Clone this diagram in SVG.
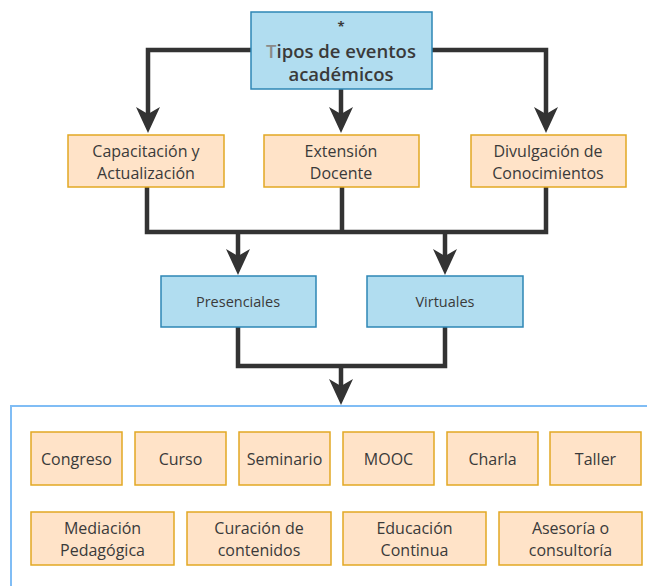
<svg xmlns="http://www.w3.org/2000/svg" width="647" height="586" viewBox="0 0 647 586">
<defs>
<style>
.blue{fill:#b1ddf0;stroke:#2e86b5;stroke-width:1.5}
.org{fill:#ffe3c8;stroke:#e2a823;stroke-width:1.5}
.t{font-family:"Open Sans","Liberation Sans",sans-serif;fill:#3a3a3a;text-anchor:middle}
.m{font-size:16px}
.c{fill:none;stroke:#333;stroke-width:4.5;stroke-linejoin:miter}
</style>
<marker id="ah" viewBox="-14 -14 28 28" refX="0" refY="0" markerWidth="28" markerHeight="28" markerUnits="userSpaceOnUse" orient="auto">
<path d="M13,0 L-13,-12 L-6,0 L-13,12 Z" fill="#333"/>
</marker>
</defs>
<rect width="647" height="586" fill="#fff"/>
<g id="connectors">
<path class="c" d="M251,50 H148 V120" marker-end="url(#ah)"/>
<path class="c" d="M341,89 V120" marker-end="url(#ah)"/>
<path class="c" d="M432,50 H546 V120" marker-end="url(#ah)"/>
<path class="c" d="M147,187 V232 H546 V187"/>
<path class="c" d="M342,187 V232"/>
<path class="c" d="M238,232 V262" marker-end="url(#ah)"/>
<path class="c" d="M445,232 V262" marker-end="url(#ah)"/>
<path class="c" d="M238,327 V366 H445 V327"/>
<path class="c" d="M341,366 V392" marker-end="url(#ah)"/>
</g>
<g id="container"><rect x="11" y="406" width="650" height="200" fill="none" stroke="#80bdf5" stroke-width="2"/></g>
<g id="top"><rect class="blue" x="251" y="12" width="181" height="77"/>
<text class="t" x="341" y="31" font-size="13" font-weight="700">*</text>
<text class="t" x="341" y="58" font-size="18.5" font-weight="600"><tspan fill="#8a8a8a">T</tspan>ipos de eventos</text>
<text class="t" x="341" y="81" font-size="18.5" font-weight="600">académicos</text></g>
<g id="cap"><rect class="org" x="68" y="135" width="156" height="52"/>
<text class="t m" x="146" y="157">Capacitación y</text><text class="t m" x="146" y="179">Actualización</text></g>
<g id="ext"><rect class="org" x="264" y="135" width="155" height="52"/>
<text class="t m" x="341" y="157">Extensión</text><text class="t m" x="341" y="179">Docente</text></g>
<g id="div"><rect class="org" x="471" y="135" width="155" height="52"/>
<text class="t m" x="548" y="157">Divulgación de</text><text class="t m" x="548" y="179">Conocimientos</text></g>
<g id="pres"><rect class="blue" x="161" y="276" width="155" height="51"/>
<text class="t" x="238" y="307" font-size="14.5">Presenciales</text></g>
<g id="virt"><rect class="blue" x="367" y="276" width="156" height="51"/>
<text class="t" x="445" y="307" font-size="14.5">Virtuales</text></g>
<g id="congreso"><rect class="org" x="31" y="432" width="91" height="53"/><text class="t m" x="76.5" y="465">Congreso</text></g>
<g id="curso"><rect class="org" x="135" y="432" width="91" height="53"/><text class="t m" x="180.5" y="465">Curso</text></g>
<g id="seminario"><rect class="org" x="239" y="432" width="91" height="53"/><text class="t m" x="284.5" y="465">Seminario</text></g>
<g id="mooc"><rect class="org" x="343" y="432" width="91" height="53"/><text class="t m" x="388.5" y="465">MOOC</text></g>
<g id="charla"><rect class="org" x="447" y="432" width="91" height="53"/><text class="t m" x="492.5" y="465">Charla</text></g>
<g id="taller"><rect class="org" x="550" y="432" width="91" height="53"/><text class="t m" x="595.5" y="465">Taller</text></g>
<g id="mediacion"><rect class="org" x="31" y="512" width="143" height="53"/><text class="t m" x="102.5" y="534">Mediación</text><text class="t m" x="102.5" y="556">Pedagógica</text></g>
<g id="curacion"><rect class="org" x="187" y="512" width="144" height="53"/><text class="t m" x="259" y="534">Curación de</text><text class="t m" x="259" y="556">contenidos</text></g>
<g id="educacion"><rect class="org" x="343" y="512" width="143" height="53"/><text class="t m" x="414.5" y="534">Educación</text><text class="t m" x="414.5" y="556">Continua</text></g>
<g id="asesoria"><rect class="org" x="499" y="512" width="143" height="53"/><text class="t m" x="570.5" y="534">Asesoría o</text><text class="t m" x="570.5" y="556">consultoría</text></g>
</svg>
